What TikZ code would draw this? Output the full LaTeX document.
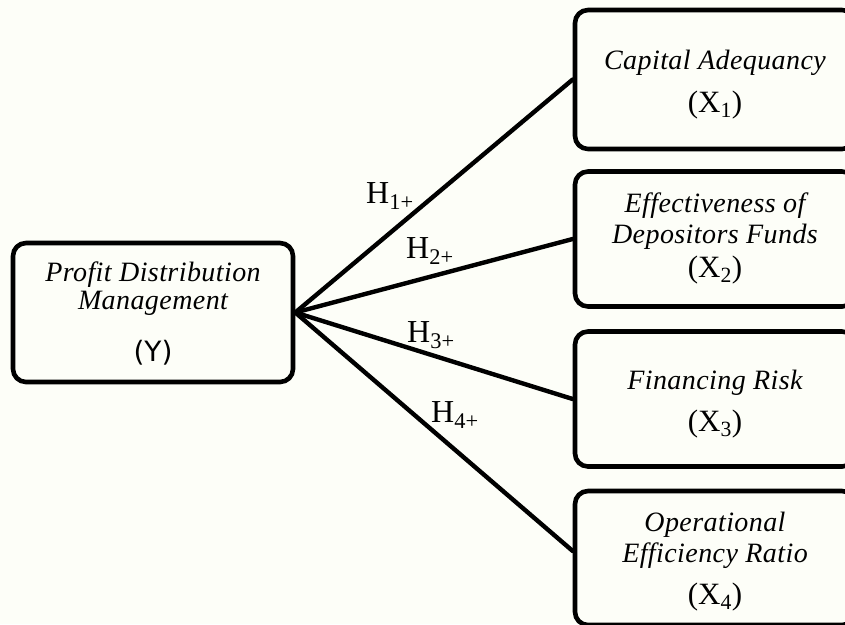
\documentclass[tikz,border=0pt]{standalone}
\usepackage{fontspec}
\setmainfont{Liberation Serif}
\newfontfamily\itfont[LetterSpace=1.5]{Liberation Serif}
\newfontfamily\ysans{DejaVu Sans}
\definecolor{bg}{HTML}{FDFEF8}
\begin{document}
\begin{tikzpicture}[x=1pt,y=-1pt,
  box/.style={draw=black, line width=4.6pt, rounded corners=13pt, minimum width=280pt, inner sep=0pt},
  lbl/.style={anchor=base, inner sep=0pt, font=\itfont\itshape\fontsize{28}{32}\selectfont},
  var/.style={anchor=base, inner sep=0pt, font=\fontsize{31}{34}\selectfont},
  hyp/.style={anchor=base west, inner sep=0pt, font=\fontsize{32}{36}\selectfont},
  link/.style={line width=4.4pt, line cap=round}]
\clip (0,0) rectangle (845,624);
\fill[bg] (0,0) rectangle (845,624);
% boxes
\node[box, minimum height=139pt] (Y) at (153,312.5) {};
\node[box, minimum height=139pt] (X1) at (715,79.5) {};
\node[box, minimum height=135pt] (X2) at (715,239) {};
\node[box, minimum height=135pt] (X3) at (715,399) {};
\node[box, minimum height=134pt] (X4) at (715,558) {};
% connectors
\draw[link] (Y.east) -- (X1.west);
\draw[link] (Y.east) -- (X2.west);
\draw[link] (Y.east) -- (X3.west);
\draw[link] (Y.east) -- ([yshift=7pt]X4.west);
% texts
\node[lbl] (ya) at (153,281) {Profit Distribution};
\node[lbl] (yb) at (153,309) {Management};
\node[anchor=base, inner sep=0pt, font=\ysans\fontsize{28}{32}\selectfont] (yc) at (153,361) {(Y)};
\node[lbl] (x1a) at (715,69) {Capital Adequancy};
\node[var] (x1b) at (715,112) {(X\textsubscript{1})};
\node[lbl] (x2a) at (715,212) {Effectiveness of};
\node[lbl] (x2b) at (715,243) {Depositors Funds};
\node[var] (x2c) at (715,277) {(X\textsubscript{2})};
\node[lbl] (x3a) at (715,389) {Financing Risk};
\node[var] (x3b) at (715,431) {(X\textsubscript{3})};
\node[lbl] (x4a) at (715,531) {Operational};
\node[lbl] (x4b) at (715,562) {Efficiency Ratio};
\node[var] (x4c) at (715,604) {(X\textsubscript{4})};
% hypotheses
\node[hyp] (h1) at (366,203) {H\textsubscript{1+}};
\node[hyp] (h2) at (406,258) {H\textsubscript{2+}};
\node[hyp] (h3) at (407,342) {H\textsubscript{3+}};
\node[hyp] (h4) at (431,422) {H\textsubscript{4+}};
\end{tikzpicture}
\end{document}
